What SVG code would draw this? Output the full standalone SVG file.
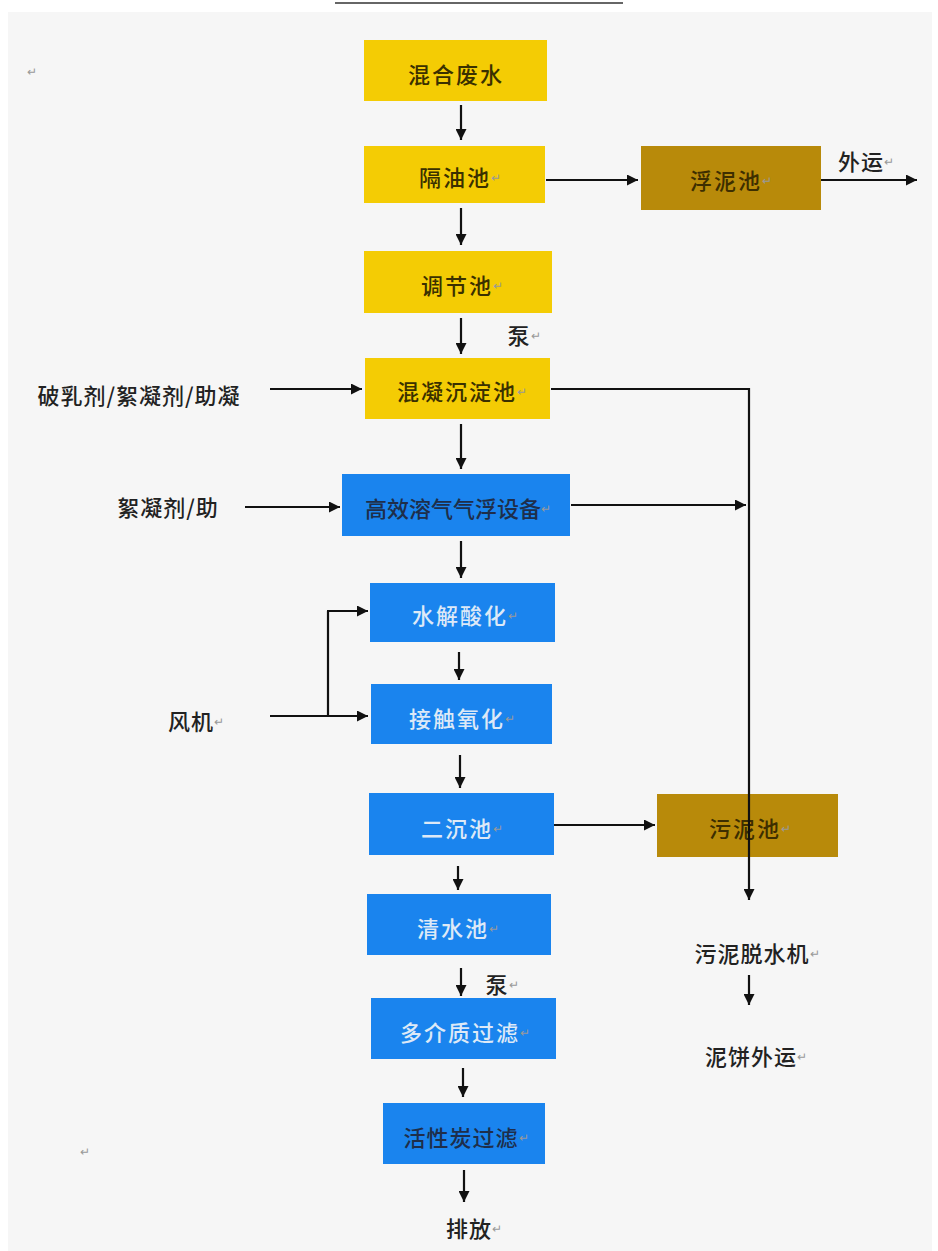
<svg xmlns="http://www.w3.org/2000/svg" width="938" height="1251" viewBox="0 0 938 1251">
<defs>
<marker id="ah" viewBox="0 0 10 10" refX="10" refY="5" markerWidth="11" markerHeight="11" markerUnits="userSpaceOnUse" orient="auto">
<path d="M0,0 L10,5 L0,10 z" fill="#111"/>
</marker>
<style>
.y{fill:#f4cc04}
.b{fill:#1a84ee}
.m{fill:#b88a0a}
text{font-family:"Noto Sans CJK SC","Noto Sans",sans-serif;font-size:22px;font-weight:500;text-anchor:middle;dominant-baseline:central;letter-spacing:2px}
.dk{fill:#3a3000}
.lt{fill:#dde9f7}
.nv{fill:#1e2e4a}
.br{fill:#3d2e00}
.lb{fill:#222;letter-spacing:1px}
.rt{font-size:12px;fill:#999;font-weight:400;letter-spacing:0}
.c{stroke:#111;stroke-width:2.2;fill:none}
.ca{stroke:#111;stroke-width:2.2;fill:none;marker-end:url(#ah)}
</style>
</defs>
<rect x="0" y="0" width="938" height="1251" fill="#ffffff"/>
<rect x="8" y="12" width="924" height="1239" fill="#f6f6f6"/>
<line x1="335" y1="3" x2="623" y2="3" stroke="#333" stroke-width="1.5"/>
<text x="32" y="70" class="rt">↵</text>
<text x="85" y="1150" class="rt">↵</text>

<g id="n1"><rect class="y" x="364" y="40" width="183" height="61"/><text class="dk" x="456" y="73">混合废水</text></g>
<g id="n2"><rect class="y" x="364" y="146" width="181" height="57"/><text class="dk" x="460" y="176">隔油池<tspan class="rt">↵</tspan></text></g>
<g id="n3"><rect class="m" x="641" y="146" width="180" height="64"/><text class="br" x="731" y="179">浮泥池<tspan class="rt" fill="#8a6a10">↵</tspan></text></g>
<g id="n4"><rect class="y" x="364" y="251" width="188" height="62"/><text class="dk" x="462" y="284">调节池<tspan class="rt">↵</tspan></text></g>
<g id="n5"><rect class="y" x="365" y="358" width="185" height="61"/><text class="dk" x="462" y="390">混凝沉淀池<tspan class="rt">↵</tspan></text></g>
<g id="n6"><rect class="b" x="342" y="474" width="228" height="62"/><text class="nv" x="458" y="507" style="letter-spacing:0">高效溶气气浮设备<tspan class="rt" fill="#5a7aa0">↵</tspan></text></g>
<g id="n7"><rect class="b" x="370" y="583" width="185" height="59"/><text class="lt" x="465" y="614">水解酸化<tspan class="rt" fill="#8ab0e0">↵</tspan></text></g>
<g id="n8"><rect class="b" x="371" y="684" width="181" height="60"/><text class="lt" x="462" y="717">接触氧化<tspan class="rt" fill="#8ab0e0">↵</tspan></text></g>
<g id="n9"><rect class="b" x="369" y="793" width="185" height="62"/><text class="lt" x="462" y="827">二沉池<tspan class="rt" fill="#8ab0e0">↵</tspan></text></g>
<g id="n10"><rect class="m" x="657" y="794" width="181" height="63"/><text class="br" x="750" y="827">污泥池<tspan class="rt" fill="#8a6a10">↵</tspan></text></g>
<g id="n11"><rect class="b" x="367" y="894" width="184" height="61"/><text class="lt" x="458" y="927">清水池<tspan class="rt" fill="#8ab0e0">↵</tspan></text></g>
<g id="n12"><rect class="b" x="371" y="998" width="185" height="61"/><text class="lt" x="465" y="1031">多介质过滤<tspan class="rt" fill="#8ab0e0">↵</tspan></text></g>
<g id="n13"><rect class="b" x="383" y="1103" width="162" height="61"/><text class="nv" x="466" y="1136" style="letter-spacing:1px">活性炭过滤<tspan class="rt" fill="#5a7aa0">↵</tspan></text></g>

<g id="labels">
<text class="lb" x="866" y="160">外运<tspan class="rt">↵</tspan></text>
<text class="lb" x="524" y="334">泵<tspan class="rt">↵</tspan></text>
<text class="lb" x="139" y="394">破乳剂/絮凝剂/助凝</text>
<text class="lb" x="168" y="506">絮凝剂/助</text>
<text class="lb" x="196" y="720">风机<tspan class="rt">↵</tspan></text>
<text class="lb" x="502" y="983">泵<tspan class="rt">↵</tspan></text>
<text class="lb" x="757" y="952">污泥脱水机<tspan class="rt">↵</tspan></text>
<text class="lb" x="756" y="1055">泥饼外运<tspan class="rt">↵</tspan></text>
<text class="lb" x="474" y="1227">排放<tspan class="rt">↵</tspan></text>
</g>

<g id="connectors">
<line class="ca" x1="461" y1="105" x2="461" y2="140"/>
<line class="ca" x1="461" y1="208" x2="461" y2="245"/>
<line class="ca" x1="546" y1="180" x2="638" y2="180"/>
<line class="ca" x1="821" y1="180" x2="917" y2="180"/>
<line class="ca" x1="461" y1="318" x2="461" y2="354"/>
<line class="ca" x1="270" y1="389" x2="362" y2="389"/>
<polyline class="ca" points="551,389 749,389 749,900"/>
<line class="ca" x1="461" y1="424" x2="461" y2="469"/>
<line class="ca" x1="245" y1="507" x2="340" y2="507"/>
<line class="ca" x1="571" y1="505" x2="746" y2="505"/>
<line class="ca" x1="461" y1="541" x2="461" y2="578"/>
<polyline class="c" points="270,716 328,716 328,611"/>
<line class="ca" x1="327" y1="611" x2="368" y2="611"/>
<line class="ca" x1="328" y1="716" x2="368" y2="716"/>
<line class="ca" x1="459" y1="652" x2="459" y2="680"/>
<line class="ca" x1="460" y1="755" x2="460" y2="788"/>
<line class="ca" x1="554" y1="825" x2="655" y2="825"/>
<line class="ca" x1="458" y1="866" x2="458" y2="890"/>
<line class="ca" x1="461" y1="968" x2="461" y2="996"/>
<line class="ca" x1="749" y1="975" x2="749" y2="1005"/>
<line class="ca" x1="463" y1="1068" x2="463" y2="1097"/>
<line class="ca" x1="464" y1="1170" x2="464" y2="1202"/>
</g>
</svg>
